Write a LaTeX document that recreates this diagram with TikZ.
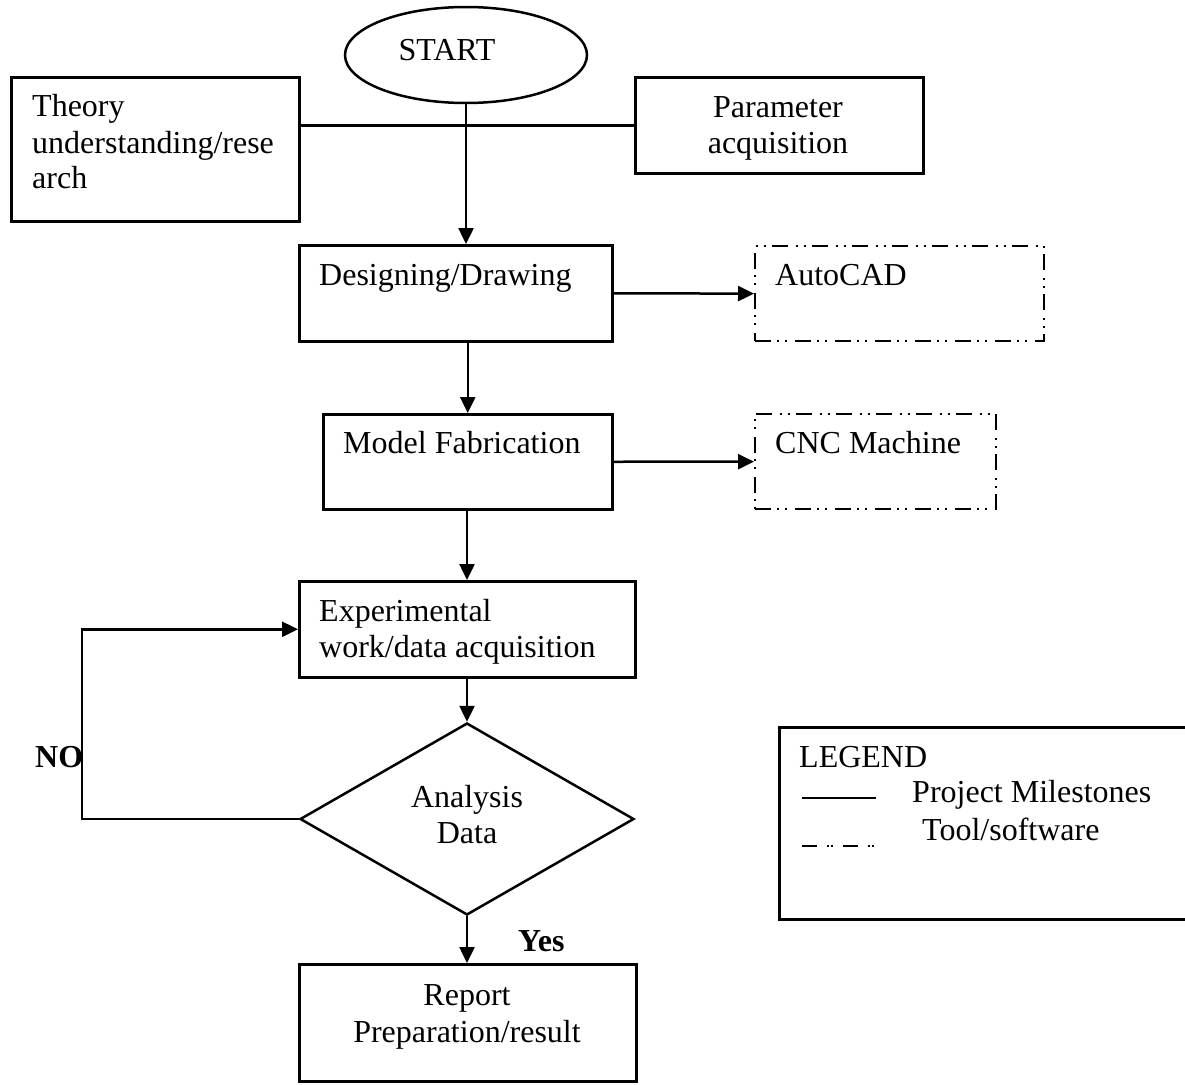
\documentclass[tikz,border=0pt]{standalone}
\usepackage{fontspec}
\setmainfont{Liberation Serif}
\usetikzlibrary{arrows.meta,shapes.geometric}
\newcommand{\fsz}{\fontsize{32}{36}\selectfont}
\tikzset{
  box/.style={draw, line width=2.5pt, rectangle, inner sep=0pt, anchor=north west},
  toolbox/.style={draw, line width=2.3pt, rectangle, inner sep=0pt, anchor=north west,
    dash pattern=on 16pt off 6pt on 2pt off 6pt on 2pt off 8pt},
  txt/.style={anchor=base west, inner sep=0pt, font=\fsz},
  ctxt/.style={anchor=base, inner sep=0pt, font=\fsz},
  conn/.style={line width=2.5pt},
  arr/.style={line width=2.5pt, -{Triangle[length=16pt, width=15pt]}},
}
\begin{document}
\begin{tikzpicture}[x=1pt, y=-1pt]
\useasboundingbox (0,0) rectangle (1185,1084);

% shapes
\node[draw, line width=2.5pt, ellipse, minimum width=242pt, minimum height=96pt, inner sep=0pt] (start) at (466,55) {};
\node[box, minimum width=288pt, minimum height=144pt] (theory) at (10,76) {};
\node[box, minimum width=288pt, minimum height=96pt] (param) at (634,76) {};
\node[box, minimum width=313pt, minimum height=96pt] (design) at (298,244) {};
\node[toolbox, minimum width=289pt, minimum height=95pt] (autocad) at (754,245) {};
\node[box, minimum width=289pt, minimum height=95pt] (model) at (322,413) {};
\node[toolbox, minimum width=241pt, minimum height=95pt] (cnc) at (754,413) {};
\node[box, minimum width=336pt, minimum height=96pt] (exp) at (298,580) {};
\node[draw, line width=2.5pt, diamond, minimum width=334pt, minimum height=192pt, inner sep=0pt] (dia) at (467,819) {};
\node[box, minimum width=337pt, minimum height=117pt] (report) at (298,963) {};
\node[box, minimum width=420pt, minimum height=192pt] (legend) at (778,726) {};

% texts
\node[ctxt] (tstart) at (447,60) {START};
\node[txt] (tth1) at (32,116) {Theory};
\node[txt] (tth2) at (32,153) {understanding/rese};
\node[txt] (tth3) at (32,188) {arch};
\node[ctxt] (tpa1) at (778,117) {Parameter};
\node[ctxt] (tpa2) at (778,153) {acquisition};
\node[txt] (tdes) at (319,285) {Designing/Drawing};
\node[txt] (tcad) at (775,285) {AutoCAD};
\node[txt] (tmod) at (343,453) {Model Fabrication};
\node[txt] (tcnc) at (775,453) {CNC Machine};
\node[txt] (tex1) at (319,621) {Experimental};
\node[txt] (tex2) at (319,657) {work/data acquisition};
\node[ctxt] (tan1) at (467,807) {Analysis};
\node[ctxt] (tan2) at (467,843) {Data};
\node[txt, font=\fsz\bfseries] (tno) at (35,767) {NO};
\node[txt, font=\fsz\bfseries] (tyes) at (518,951) {Yes};
\node[ctxt] (trep1) at (467,1005) {Report};
\node[ctxt] (trep2) at (467,1042) {Preparation/result};
\node[txt] (tleg) at (799,767) {LEGEND};
\node[txt] (tleg1) at (912,802) {Project Milestones};
\node[txt] (tleg2) at (922,840) {Tool/software};

% connectors
\coordinate (loop) at (82,819);
\draw[conn] (theory.east |- param.west) -- (param.west);
\draw[arr] (start.south) -- (start.south |- design.north);
\draw[arr] (design.east) -- (autocad.west);
\draw[arr] (model.north |- design.south) -- (model.north);
\draw[arr] (model.east) -- (cnc.west);
\draw[arr] (model.south -| dia.north) -- (exp.north -| dia.north);
\draw[arr] (exp.south -| dia.north) -- (dia.north);
\draw[arr] (dia.west) -- (loop) |- (exp.west);
\draw[arr] (dia.south) -- (report.north -| dia.south);

% legend samples
\draw[line width=2.5pt] (802,798) -- (876,798);
\draw[line width=2.5pt, dash pattern=on 15pt off 10pt on 1.5pt off 2.5pt on 1.5pt off 10.5pt] (802,846) -- (876,846);
\end{tikzpicture}
\end{document}
